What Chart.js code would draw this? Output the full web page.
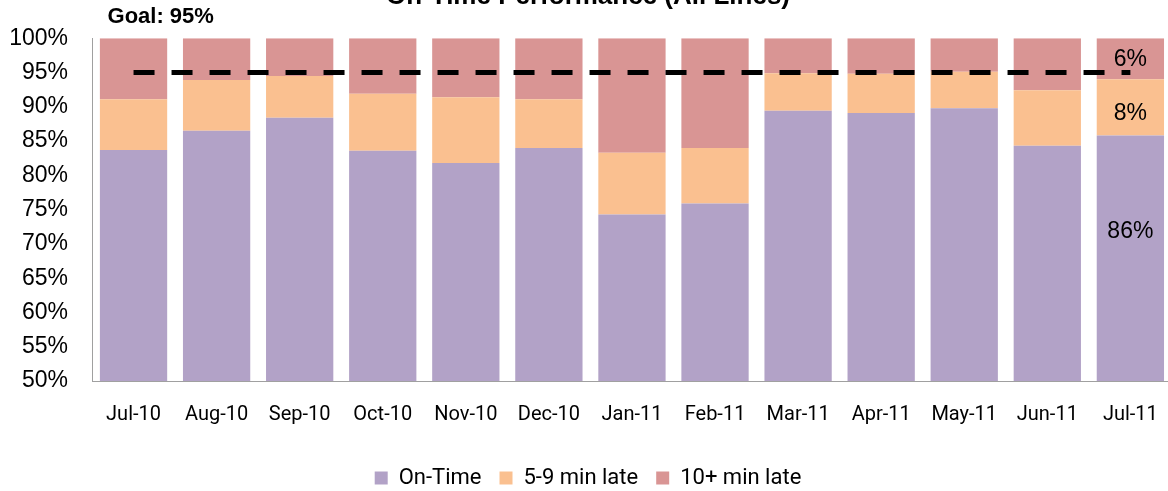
<!DOCTYPE html>
<html>
<head>
<meta charset="utf-8">
<script src="https://cdn.jsdelivr.net/npm/chart.js@4"></script>
<style>
  html, body { margin: 0; padding: 0; background: #fff; overflow: hidden; }
  #wrap { width: 1180px; height: 531px; margin-top: -30px; }
</style>
</head>
<body>
<div id="wrap"><canvas id="chart"></canvas></div>
<script>
const months = ["Jul-10","Aug-10","Sep-10","Oct-10","Nov-10","Dec-10","Jan-11","Feb-11","Mar-11","Apr-11","May-11","Jun-11","Jul-11"];
const onTime = [83.7, 86.5, 88.4, 83.6, 81.8, 84.0, 74.3, 75.9, 89.4, 89.1, 89.8, 84.3, 85.8];
const late5to9 = [7.4, 7.4, 6.1, 8.3, 9.6, 7.1, 9.0, 8.1, 5.5, 5.7, 5.3, 8.1, 8.2];
const late10 = onTime.map((v, i) => 100 - v - late5to9[i]); // remainder up to 100%
const goal = months.map(() => 95);
const lastLabels = ["86%", "8%", "6%"];

const PURPLE = "#B2A2C7", ORANGE = "#FAC090", RED = "#D99594";

const extras = {
  id: "extras",
  afterDatasetsDraw(chart) {
    const ctx = chart.ctx;
    const x = chart.scales.x, y = chart.scales.y;
    ctx.save();
    // goal label
    ctx.fillStyle = "#000";
    ctx.font = "bold 22px 'Liberation Sans'";
    ctx.textAlign = "left";
    ctx.textBaseline = "middle";
    ctx.fillText("Goal: 95%", x.getPixelForValue(0) - 26, chart.chartArea.top - 21);
    // labels on last bar
    const i = months.length - 1;
    const cx = x.getPixelForValue(i);
    ctx.font = "23px 'Liberation Sans'";
    ctx.textAlign = "center";
    const top1 = onTime[i], top2 = top1 + late5to9[i];
    ctx.fillText(lastLabels[0], cx, y.getPixelForValue(top1 - 14));
    ctx.fillText(lastLabels[1], cx, y.getPixelForValue((top1 + top2) / 2) + 6);
    ctx.fillText(lastLabels[2], cx, y.getPixelForValue((top2 + 100) / 2) + 1);
    ctx.restore();
  }
};

new Chart(document.getElementById("chart"), {
  data: {
    labels: months,
    datasets: [
      { type: "line", label: "Goal", data: goal, borderColor: "#000", borderWidth: 5,
        borderDash: [21, 17], pointRadius: 0, stack: "goal", order: 0 },
      { type: "bar", label: "On-Time", data: onTime, backgroundColor: PURPLE, stack: "s", order: 1 },
      { type: "bar", label: "5-9 min late", data: late5to9, backgroundColor: ORANGE, stack: "s", order: 1 },
      { type: "bar", label: "10+ min late", data: late10, backgroundColor: RED, stack: "s", order: 1 }
    ]
  },
  options: {
    responsive: true,
    maintainAspectRatio: false,
    animation: false,
    layout: { padding: { right: 4, bottom: 2 } },
    datasets: { bar: { categoryPercentage: 1, barPercentage: 0.81 } },
    plugins: {
      title: {
        display: true,
        text: "On-Time Performance (All Lines)",
        color: "#000",
        font: { family: "'Liberation Sans'", size: 26, weight: "bold" },
        padding: { top: 11, bottom: 26 }
      },
      legend: {
        position: "bottom",
        labels: {
          filter: item => item.text !== "Goal",
          boxWidth: 13, boxHeight: 13, color: "#000",
          font: { family: "Roboto", size: 22 },
          padding: 18
        }
      },
      tooltip: { enabled: false }
    },
    scales: {
      x: {
        stacked: true,
        grid: { display: false, drawTicks: false },
        border: { color: "#A0A0A0", width: 1 },
        ticks: { color: "#000", font: { family: "Roboto", size: 20 }, padding: 22, maxRotation: 0 }
      },
      y: {
        stacked: true,
        min: 50, max: 100,
        afterFit: s => { s.width = 92; },
        grid: { display: false, drawTicks: false },
        border: { color: "#A0A0A0", width: 1 },
        ticks: { stepSize: 5, color: "#000", padding: 24,
          font: { family: "'Liberation Sans'", size: 23 },
          callback: v => v + "%" }
      }
    }
  },
  plugins: [extras]
});
</script>
</body>
</html>
